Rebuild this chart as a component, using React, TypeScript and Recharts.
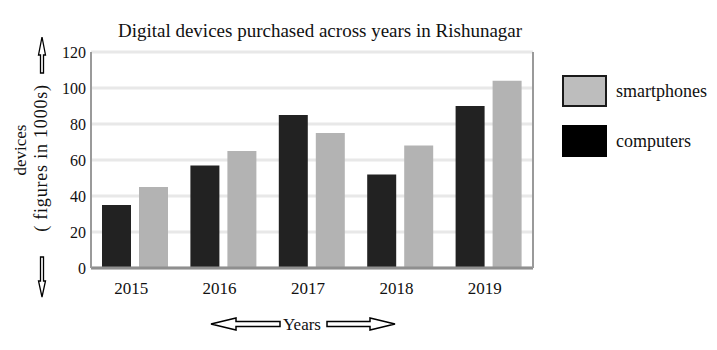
import React from "react";
import { BarChart, Bar, XAxis, YAxis, CartesianGrid, Legend, Customized } from "recharts";

const years = ["2015", "2016", "2017", "2018", "2019"];
const computers = [35, 57, 85, 52, 90];
const smartphones = [45, 65, 75, 68, 104];
const yTicks = [0, 20, 40, 60, 80, 100, 120];

const data = years.map((year, i) => ({
  year,
  computers: computers[i],
  smartphones: smartphones[i],
}));

const FONT = "'Liberation Serif', 'Times New Roman', serif";

const Decorations = () => (
  <g fontFamily={FONT}>
    <text x={320} y={37} textAnchor="middle" fontSize={19} fill="#111">
      Digital devices purchased across years in Rishunagar
    </text>
    <text x={20} y={150} transform="rotate(-90 20 150)" textAnchor="middle" dominantBaseline="central" fontSize={17} fill="#111">
      devices
    </text>
    <text x={41} y={158} transform="rotate(-90 41 158)" textAnchor="middle" dominantBaseline="central" fontSize={18} letterSpacing={0.8} fill="#111">
      ( figures in 1000s)
    </text>
    <path d="M42,37 L45.5,55 L43.5,55 L43.5,73 L40.5,73 L40.5,55 L38.5,55 Z" fill="#fff" stroke="#000" strokeWidth={1.3} />
    <path d="M42,297 L45.5,281 L43.5,281 L43.5,257 L40.5,257 L40.5,281 L38.5,281 Z" fill="#fff" stroke="#000" strokeWidth={1.3} />
    <path d="M211,324 L236,318 L236,321.5 L280,321.5 L280,326.5 L236,326.5 L236,330 Z" fill="#fff" stroke="#000" strokeWidth={1.5} />
    <path d="M395,324 L370,318 L370,321.5 L327,321.5 L327,326.5 L370,326.5 L370,330 Z" fill="#fff" stroke="#000" strokeWidth={1.5} />
    <text x={302} y={330} textAnchor="middle" fontSize={17} fill="#111">
      Years
    </text>
  </g>
);

const renderLegend = (props: any) => {
  const payload = [...(props.payload || [])].reverse();
  return (
    <div style={{ fontFamily: FONT }}>
      {payload.map((entry: any, i: number) => (
        <div key={entry.value} style={{ display: "flex", alignItems: "center", height: 32, marginBottom: i === 0 ? 18 : 0 }}>
          <div
            style={{
              width: entry.value === "smartphones" ? 41 : 45,
              height: entry.value === "smartphones" ? 28 : 32,
              background: entry.value === "smartphones" ? "#bdbdbd" : "#000",
              border: entry.value === "smartphones" ? "2px solid #1a1a1a" : "none",
            }}
          />
          <span style={{ marginLeft: 9, fontSize: 18, color: "#111" }}>{entry.value}</span>
        </div>
      ))}
    </div>
  );
};

export default function App() {
  return (
    <div style={{ position: "absolute", left: 0, top: 0 }}>
      <BarChart
        width={717}
        height={350}
        data={data}
        margin={{ top: 52, right: 183, bottom: 52, left: 0 }}
        barGap={8}
        barSize={29}
      >
        <CartesianGrid vertical={false} stroke="#e8e8e8" strokeWidth={3} />
        <XAxis
          dataKey="year"
          height={30}
          tickLine={false}
          tickSize={0}
          tickMargin={14}
          axisLine={{ stroke: "#8f8f8f", strokeWidth: 3 }}
          tick={{ fontFamily: FONT, fontSize: 17, fill: "#111", dx: -4 }}
        />
        <XAxis
          xAxisId="top"
          orientation="top"
          dataKey="year"
          height={0}
          tick={false}
          tickLine={false}
          axisLine={{ stroke: "#9a9a9a", strokeWidth: 2 }}
        />
        <YAxis
          width={91}
          domain={[0, 120]}
          ticks={yTicks}
          tickLine={false}
          tickSize={2}
          tickMargin={3}
          axisLine={{ stroke: "#9a9a9a", strokeWidth: 2 }}
          tick={{ fontFamily: FONT, fontSize: 16, fill: "#111" }}
        />
        <YAxis
          yAxisId="right"
          orientation="right"
          width={1}
          domain={[0, 120]}
          ticks={yTicks}
          tick={false}
          tickLine={false}
          axisLine={{ stroke: "#9a9a9a", strokeWidth: 2 }}
        />
        <Bar dataKey="computers" fill="#222222" isAnimationActive={false} />
        <Bar dataKey="smartphones" fill="#b3b3b3" isAnimationActive={false} />
        <Legend
          layout="vertical"
          align="center"
          verticalAlign="middle"
          content={renderLegend}
          wrapperStyle={{ position: "absolute", left: 562, top: 75, width: 155 }}
        />
        <Customized component={<Decorations />} />
      </BarChart>
    </div>
  );
}
